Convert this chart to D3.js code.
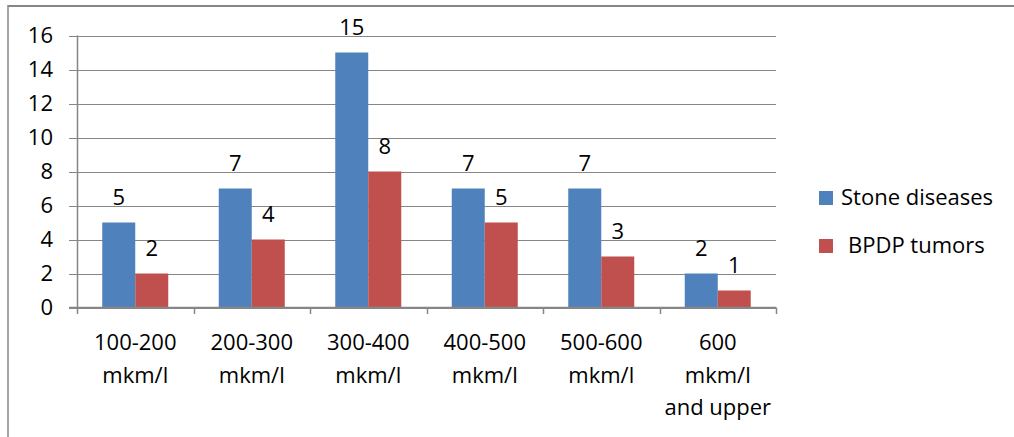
<!DOCTYPE html>
<html><head><meta charset="utf-8">
<script src="https://cdn.jsdelivr.net/npm/d3@7"></script>
<style>html,body{margin:0;padding:0;background:#fff;}svg{display:block;}</style>
</head><body>
<svg id="c" width="1014" height="437"></svg>
<script>
const categories = [["100-200","mkm/l"],["200-300","mkm/l"],["300-400","mkm/l"],["400-500","mkm/l"],["500-600","mkm/l"],["600","mkm/l","and upper"]];
const seriesNames = ["Stone diseases","BPDP tumors"];
const stoneValues = [5,7,15,7,7,2];
const tumorValues = [2,4,8,5,3,1];
const yTicks = [0,2,4,6,8,10,12,14,16];
const colors = ["#4F81BD","#C0504D"];

const svg = d3.select("#c");
const font = "'Open Sans', sans-serif";
const fs = 22;
const grid = "#868686";

// outer border (left and top)
svg.append("line").attr("x1",8).attr("x2",8).attr("y1",5).attr("y2",437).attr("stroke",grid).attr("stroke-width",1.5);
svg.append("line").attr("x1",8).attr("x2",1014).attr("y1",6).attr("y2",6).attr("stroke",grid).attr("stroke-width",2);

const x0 = d3.scaleBand().domain(d3.range(categories.length)).range([77,776]).paddingInner(0).paddingOuter(0);
const y = d3.scaleLinear().domain([0,16]).range([307.5,35.5]);
const bw = 33;

// gridlines
svg.append("g").selectAll("line").data(yTicks).join("line")
  .attr("x1",69).attr("x2",776)
  .attr("y1",d=>Math.round(y(d))+0.5).attr("y2",d=>Math.round(y(d))+0.5)
  .attr("stroke",grid).attr("stroke-width",1);
// y labels
svg.append("g").selectAll("text").data(yTicks).join("text")
  .attr("x",53).attr("y",d=>y(d)).attr("dy","0.35em").attr("text-anchor","end")
  .attr("font-family",font).attr("font-size",fs).attr("fill","#000").text(d=>d);
// y axis line
svg.append("line").attr("x1",77.5).attr("x2",77.5).attr("y1",35.5).attr("y2",308).attr("stroke",grid).attr("stroke-width",1.5);
// x axis ticks
const tickX = d3.range(categories.length+1).map(i=> i<categories.length ? x0(i) : x0.range()[1]);
svg.append("g").selectAll("line").data(tickX).join("line")
  .attr("x1",d=>Math.round(d)+0.5).attr("x2",d=>Math.round(d)+0.5).attr("y1",307.5).attr("y2",314)
  .attr("stroke",grid).attr("stroke-width",1.5);

// bars
const series = [stoneValues, tumorValues];
series.forEach((vals,si)=>{
  const g = svg.append("g");
  g.selectAll("rect").data(vals).join("rect")
    .attr("x",(d,i)=>x0(i)+x0.bandwidth()/2 - bw + si*bw)
    .attr("y",d=>y(d)).attr("width",bw).attr("height",d=>y(0)-y(d))
    .attr("fill",colors[si]);
  g.selectAll("text").data(vals).join("text")
    .attr("x",(d,i)=>x0(i)+x0.bandwidth()/2 - bw/2 + si*bw)
    .attr("y",d=>y(d)-18)
    .attr("text-anchor","middle").attr("font-family",font).attr("font-size",fs).attr("fill","#000")
    .text(d=>d);
});
// redraw axis baseline over bars
svg.append("line").attr("x1",69).attr("x2",776).attr("y1",307.5).attr("y2",307.5).attr("stroke",grid).attr("stroke-width",1.5);

// x labels
categories.forEach((lines,i)=>{
  const t = svg.append("text").attr("text-anchor","middle").attr("font-family",font).attr("font-size",fs).attr("fill","#000");
  lines.forEach((ln,j)=>{
    t.append("tspan").attr("x",x0(i)+x0.bandwidth()/2).attr("y",350+j*32.7).text(ln);
  });
});

// legend
const legY = [205,253];
seriesNames.forEach((n,i)=>{
  svg.append("rect").attr("x",819).attr("y",legY[i]-14).attr("width",14).attr("height",14).attr("fill",colors[i]);
  svg.append("text").attr("x",i===0?841:848).attr("y",legY[i]).attr("font-family",font).attr("font-size",fs).attr("fill","#000").text(n);
});
</script>
</body></html>
